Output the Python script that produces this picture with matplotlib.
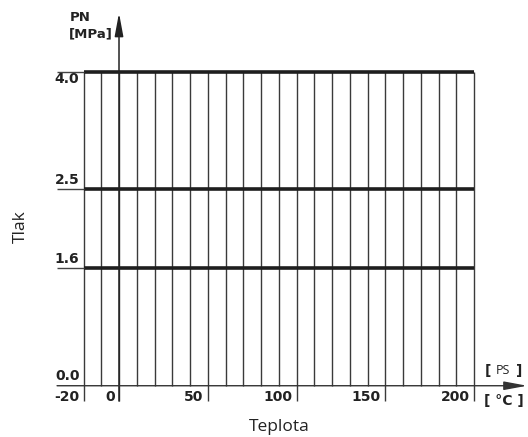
import numpy as np
import matplotlib.pyplot as plt

# Pressure levels (PN, MPa) and temperature grid (deg C)
pn_levels = [1.6, 2.5, 4.0]
pn_labels = ["0.0", "1.6", "2.5", "4.0"]
pn_label_vals = [0.0, 1.6, 2.5, 4.0]
temp_grid = list(range(-20, 201, 10))
temp_labels = ["-20", "0", "50", "100", "150", "200"]
temp_label_vals = [-20, 0, 50, 100, 150, 200]

# schematic (non-linear) pressure axis
src = [-10, 0, 1.6, 2.5, 4.0, 10]
dst = [-10, 0, 1.5, 2.5, 4.0, 10]

def fwd(v):
    return np.interp(v, src, dst)

def inv(v):
    return np.interp(v, dst, src)

fig = plt.figure(figsize=(5.28, 4.37), dpi=100)
ax = fig.add_axes([0, 0, 1, 1])
ax.set_yscale('function', functions=(fwd, inv))
ax.set_xlim(-67.04, 230.4)
ax.set_ylim(inv(-0.653), inv(4.913))
ax.axis('off')

top = 4.0
ext = inv(-0.195)   # tick extension below the axis

# vertical grid lines
for t in temp_grid:
    lo = ext if t in temp_label_vals else 0.0
    ax.vlines(t, lo, top, color='#3a3a3a', lw=1.0, zorder=2)

# thick pressure lines
ax.hlines(pn_levels, -20, 200, color='#1e1e1e', lw=2.6, zorder=3)
ax.hlines(pn_levels, -34.9, -20, color='#444444', lw=1.0, zorder=3)

# axes arrows
ax.annotate('', xy=(0, inv(4.748)), xytext=(0, ext),
            arrowprops=dict(arrowstyle='-|>,head_length=1.4,head_width=0.26',
                            mutation_scale=10, color='#222222', lw=1.1,
                            shrinkA=0, shrinkB=0), zorder=4)
ax.annotate('', xy=(229.9, 0), xytext=(-34.9, 0),
            arrowprops=dict(arrowstyle='-|>,head_length=1.4,head_width=0.26',
                            mutation_scale=10, color='#333333', lw=1.0,
                            shrinkA=0, shrinkB=0), zorder=4)

# pressure labels
for v, lab in zip(pn_label_vals, pn_labels):
    if v == 4.0:
        ax.text(-22.3, v, lab, ha='right', va='top', fontsize=10,
                fontweight='bold', color='#222222')
    else:
        ax.text(-22.3, inv(fwd(v) + 0.03), lab, ha='right', va='bottom',
                fontsize=10, fontweight='bold', color='#222222')

# temperature labels
for v, lab in zip(temp_label_vals, temp_labels):
    ax.text(v - 2.5, inv(-0.05), lab, ha='right', va='top', fontsize=10,
            fontweight='bold', color='#222222')

# axis captions
ax.text(-27.5, inv(4.69), 'PN', ha='left', va='center', fontsize=9.5,
        fontweight='bold', color='#222222')
ax.text(-28.5, inv(4.48), '[MPa]', ha='left', va='center', fontsize=9.5,
        fontweight='bold', color='#222222')
ax.text(206.0, inv(0.19), '[', ha='left', va='center', fontsize=10,
        fontweight='bold', color='#222222')
ax.text(212.3, inv(0.19), 'PS', ha='left', va='center', fontsize=9,
        color='#222222', family='Open Sans')
ax.text(227.5, inv(0.19), ']', ha='right', va='center', fontsize=10,
        fontweight='bold', color='#222222')
ax.text(217.0, inv(-0.2), '[ °C ]', ha='center', va='center', fontsize=10,
        fontweight='bold', color='#222222')

ax.text(-55.2, inv(2.03), 'Tlak', rotation=90, ha='center', va='center',
        fontsize=12.5, family='Open Sans', color='#222222')
ax.text(90.2, inv(-0.53), 'Teplota', ha='center', va='center',
        fontsize=12.5, family='Open Sans', color='#222222')

fig.savefig('out.png', dpi=100)
